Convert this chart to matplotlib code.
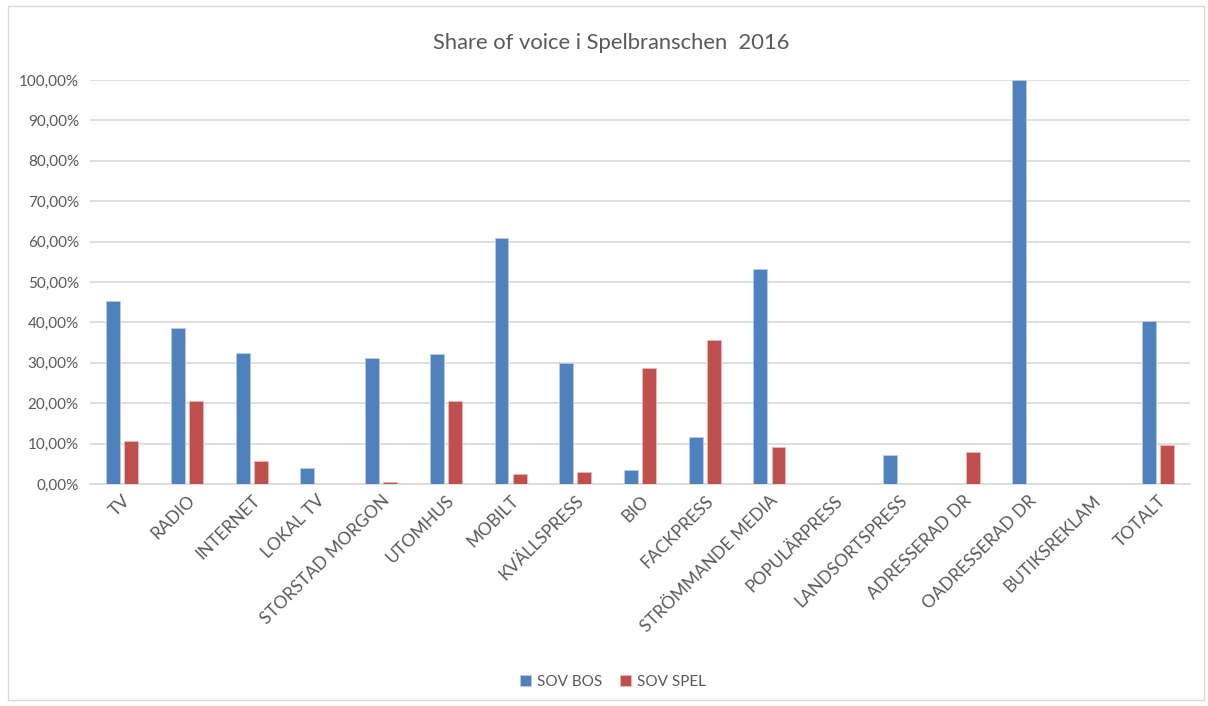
import matplotlib
matplotlib.use("Agg")
import matplotlib.pyplot as plt
import numpy as np
from matplotlib.patches import Rectangle
from matplotlib.ticker import MultipleLocator, FuncFormatter

plt.rcParams['font.family'] = ['Lato', 'DejaVu Sans']

categories = ["TV", "RADIO", "INTERNET", "LOKAL TV", "STORSTAD MORGON", "UTOMHUS",
              "MOBILT", "KVÄLLSPRESS", "BIO", "FACKPRESS", "STRÖMMANDE MEDIA",
              "POPULÄRPRESS", "LANDSORTSPRESS", "ADRESSERAD DR", "OADRESSERAD DR",
              "BUTIKSREKLAM", "TOTALT"]
sov_bos = [45.3, 38.7, 32.5, 3.9, 31.3, 32.1, 60.8, 30.0, 3.5, 11.6, 53.1,
           0.0, 7.2, 0.0, 100.0, 0.0, 40.3]
sov_spel = [10.6, 20.5, 5.8, 0.0, 0.6, 20.5, 2.4, 3.0, 28.6, 35.6, 9.2,
            0.0, 0.0, 7.8, 0.0, 0.0, 9.6]

BLUE = "#4F81BD"
RED = "#C0504D"
GREY = "#595959"
GRID = "#D9D9D9"

fig = plt.figure(figsize=(12.08, 7.06), dpi=100)
ax = fig.add_axes([90 / 1208, 222 / 706, 1100 / 1208, 404 / 706])

x = np.arange(len(categories))
w = 0.215
ax.bar(x - 0.14, np.array(sov_bos) / 100, w, color=BLUE, edgecolor="#B8CCE4",
       linewidth=0.6, label="SOV BOS", zorder=3)
ax.bar(x + 0.14, np.array(sov_spel) / 100, w, color=RED, edgecolor="#E6B9B8",
       linewidth=0.6, label="SOV SPEL", zorder=3)

ax.set_xlim(-0.5, len(categories) - 0.5)
ax.set_ylim(0, 1.0)
ax.yaxis.set_major_locator(MultipleLocator(0.1))
ax.yaxis.set_major_formatter(FuncFormatter(lambda v, _: f"{v * 100:.2f}%".replace(".", ",")))
ax.grid(axis="y", color=GRID, linewidth=1.2, zorder=0)

for s in ["top", "right", "left"]:
    ax.spines[s].set_visible(False)
ax.spines["bottom"].set_color(GRID)
ax.spines["bottom"].set_linewidth(1.2)

ax.set_xticks(x)
ax.set_xticklabels(categories, rotation=45, ha="right", rotation_mode="anchor",
                   fontsize=12.5, color=GREY)
ax.tick_params(axis="x", length=0, pad=6)
ax.tick_params(axis="y", length=0, pad=8, labelsize=11, labelcolor=GREY)

fig.text(611 / 1208, 1 - 43 / 706, "Share of voice i Spelbranschen  2016", ha="center",
         va="center", fontsize=15.8, color=GREY)

fig.legend(loc="center", bbox_to_anchor=(613 / 1208, 1 - 682 / 706), ncol=2, frameon=False,
           fontsize=11, labelcolor=GREY, handlelength=0.7, handleheight=0.7,
           handletextpad=0.4, columnspacing=1.2)

fig.patches.append(Rectangle((8 / 1208, 6 / 706), 1196 / 1208, 694 / 706,
                             transform=fig.transFigure, fill=False,
                             edgecolor=GRID, linewidth=1))

fig.savefig("out.png", dpi=100)
